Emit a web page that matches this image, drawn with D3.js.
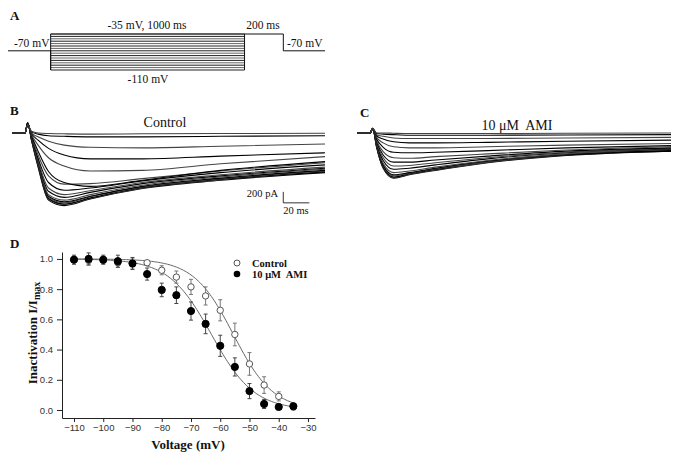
<!DOCTYPE html>
<html>
<head>
<meta charset="utf-8">
<script src="https://cdn.jsdelivr.net/npm/d3@7"></script>
<style>
  body { margin: 0; background: #fff; }
  text { white-space: pre; }
</style>
</head>
<body>
<script>
// --- panel A: protocol ---
const prepulseVoltages = [-110, -105, -100, -95, -90, -85, -80, -75, -70, -65, -60, -55, -50, -45, -40, -35];
const holdingVoltage = -70;
const protocolDurations = [220, 1000, 200, 215]; // hold, prepulse, test, hold (ms)

// --- panels B, C: current traces (pA), one row per prepulse voltage ---
const traceTimes = [0, 10, 12, 15, 20, 28, 40, 60, 100, 160, 240];
const controlTraces = [
  [0, 10, 190, -140, -620, -1220, -1320, -1200, -1010, -860, -720],
  [-10, 0, 180, -130, -600, -1200, -1300, -1190, -1000, -850, -700],
  [0, 10, 190, -120, -590, -1190, -1290, -1180, -990, -840, -710],
  [10, 0, 180, -120, -580, -1170, -1270, -1160, -980, -830, -690],
  [0, -10, 170, -110, -570, -1150, -1250, -1150, -970, -820, -680],
  [0, 10, 180, -100, -550, -1120, -1220, -1120, -950, -800, -660],
  [-10, 0, 170, -100, -520, -1060, -1170, -1080, -920, -780, -640],
  [0, 0, 170, -90, -500, -1000, -1120, -1050, -900, -760, -620],
  [0, 10, 170, -80, -460, -900, -1040, -1000, -870, -720, -580],
  [0, 0, 160, -70, -400, -780, -930, -920, -830, -690, -540],
  [0, 0, 160, -50, -330, -700, -900, -970, -860, -680, -520],
  [0, 0, 150, -30, -220, -450, -600, -690, -680, -560, -430],
  [0, 0, 150, -10, -130, -280, -400, -470, -470, -420, -360],
  [0, 0, 150, 0, -70, -150, -220, -260, -270, -240, -200],
  [0, 0, 150, 20, -20, -50, -60, -70, -70, -60, -50],
  [0, 0, 150, 30, 0, -10, -15, -20, -15, -10, -5]
];
const amiTraces = [
  [0, 0, 90, -260, -640, -820, -760, -680, -540, -410, -330],
  [0, 10, 90, -250, -630, -810, -750, -670, -530, -400, -320],
  [10, 0, 80, -250, -620, -800, -740, -660, -520, -400, -330],
  [0, 0, 80, -240, -600, -780, -730, -650, -520, -390, -310],
  [0, -10, 80, -230, -580, -760, -720, -640, -510, -390, -320],
  [0, 0, 80, -220, -550, -720, -690, -620, -500, -380, -300],
  [0, 0, 80, -200, -500, -660, -640, -580, -470, -360, -290],
  [0, 0, 80, -180, -450, -600, -590, -540, -450, -350, -280],
  [0, 0, 80, -160, -400, -530, -530, -490, -420, -330, -270],
  [0, 0, 80, -140, -340, -450, -460, -430, -380, -310, -250],
  [0, 0, 80, -110, -260, -350, -360, -350, -320, -270, -230],
  [0, 0, 80, -80, -180, -250, -270, -270, -250, -220, -190],
  [0, 0, 80, -50, -110, -160, -180, -180, -170, -150, -130],
  [0, 0, 80, -30, -60, -90, -100, -100, -100, -90, -80],
  [0, 0, 80, -10, -20, -30, -40, -40, -40, -35, -30],
  [0, 0, 80, 0, 0, -5, -10, -10, -10, -5, 0]
];

// --- panel D: steady-state inactivation ---
const controlMean = [0.995, 0.99, 0.99, 0.975, 0.97, 0.975, 0.925, 0.88, 0.815, 0.755, 0.66, 0.50, 0.305, 0.165, 0.09, 0.02];
const controlErr  = [0.02, 0.03, 0.02, 0.03, 0.03, 0.01, 0.03, 0.04, 0.05, 0.06, 0.07, 0.075, 0.075, 0.055, 0.03, 0.02];
const amiMean = [0.995, 1.0, 0.995, 0.985, 0.97, 0.90, 0.795, 0.76, 0.655, 0.57, 0.425, 0.285, 0.125, 0.04, 0.02, 0.025];
const amiErr  = [0.03, 0.04, 0.03, 0.04, 0.04, 0.04, 0.045, 0.055, 0.06, 0.065, 0.07, 0.06, 0.05, 0.03, 0.01, 0.01];
const controlFit = {vHalf: -55.5, k: 6.8};
const amiFit = {vHalf: -63, k: 7.3};
const xTickValues = [-110, -100, -90, -80, -70, -60, -50, -40, -30];
const yTickValues = [0, 0.2, 0.4, 0.6, 0.8, 1.0];

const serif = '"Liberation Serif", "Times New Roman", serif';
const sans = '"Liberation Sans", Arial, sans-serif';

const svg = d3.select('body').append('svg').attr('width', 685).attr('height', 456);

function label(x, y, txt, size, opts = {}) {
  return svg.append('text').attr('x', x).attr('y', y).text(txt)
    .attr('font-family', opts.family || serif).attr('font-size', size)
    .attr('font-weight', opts.weight || 'normal')
    .attr('text-anchor', opts.anchor || 'start').attr('fill', opts.fill || '#111');
}

// panel letters
label(10, 20, 'A', 13, {weight: 'bold'});
label(10, 115, 'B', 13, {weight: 'bold'});
label(360, 117, 'C', 13, {weight: 'bold'});
label(10, 248, 'D', 13, {weight: 'bold'});

// ---------- A ----------
const tEdges = d3.cumsum(protocolDurations);
const xA = d3.scaleLinear().domain([0, tEdges[3]]).range([8, 325]);
const yA = d3.scaleLinear().domain([-110, -35]).range([70, 34]);
const gA = svg.append('g').attr('fill', 'none').attr('stroke', '#111').attr('stroke-width', 1);
gA.selectAll('line.stripe').data(prepulseVoltages).enter().append('line')
  .attr('class', 'stripe')
  .attr('x1', xA(tEdges[0])).attr('x2', xA(tEdges[1]))
  .attr('y1', d => yA(d)).attr('y2', d => yA(d))
  .attr('stroke', (d, i) => i % 2 ? '#666' : '#222');
const outline = d3.line()([
  [xA(0), yA(holdingVoltage)], [xA(tEdges[0]), yA(holdingVoltage)],
  [xA(tEdges[0]), yA(-110)], [xA(tEdges[0]), yA(-35)],
  [xA(tEdges[2]), yA(-35)], [xA(tEdges[2]), yA(holdingVoltage)],
  [xA(tEdges[3]), yA(holdingVoltage)]
]);
gA.append('path').attr('d', outline);
gA.append('line').attr('x1', xA(tEdges[1])).attr('x2', xA(tEdges[1]))
  .attr('y1', yA(-110)).attr('y2', yA(-35));
label(14, 47, '-70 mV', 11.5);
label(287, 47, '-70 mV', 11.5);
label(147, 29, '-35 mV, 1000 ms', 11.5, {anchor: 'middle'});
label(263, 29, '200 ms', 11.5, {anchor: 'middle'});
label(148, 83, '-110 mV', 11.5, {anchor: 'middle'});

// ---------- B, C ----------
const yTrace = d3.scaleLinear().domain([-1400, 200]).range([210, 122]);
function drawTraces(traces, x) {
  const line = d3.line().x((d, i) => x(traceTimes[i])).y(d => yTrace(d)).curve(d3.curveMonotoneX);
  svg.append('g').selectAll('path').data(traces).enter().append('path')
    .attr('d', line).attr('fill', 'none')
    .attr('stroke', (d, i) => i % 2 ? '#444' : '#000').attr('stroke-width', 1.1);
}
const xB = d3.scaleLinear().domain([0, 240]).range([12, 325]);
const xC = d3.scaleLinear().domain([0, 240]).range([357, 671]);
drawTraces(controlTraces, xB);
drawTraces(amiTraces, xC);
label(165, 127, 'Control', 14, {anchor: 'middle'});
label(517, 130, '10 \u03bcM  AMI', 14, {anchor: 'middle'});

// scale bar (200 pA, 20 ms)
const bar = {t: 208, i: -1070};
svg.append('path').attr('fill', 'none').attr('stroke', '#333').attr('stroke-width', 1)
  .attr('d', d3.line()([[xB(bar.t), yTrace(bar.i)], [xB(bar.t), yTrace(bar.i - 200)], [xB(bar.t + 20), yTrace(bar.i - 200)]]));
label(278, 197, '200 pA', 10.5, {anchor: 'end'});
label(296, 214, '20 ms', 10.5, {anchor: 'middle'});

// ---------- D ----------
const x = d3.scaleLinear().domain([-114.1, -27.6]).range([62, 315]);
const y = d3.scaleLinear().domain([-0.053, 1.046]).range([418, 252]);
const gx = svg.append('g').attr('transform', 'translate(0,418)');
gx.call(d3.axisBottom(x).tickValues(d3.range(-105, -30, 10)).tickSize(3).tickFormat(''));
gx.call(d3.axisBottom(x).tickValues(xTickValues).tickSize(4).tickSizeOuter(0).tickFormat(d3.format('d')));
const gy = svg.append('g').attr('transform', 'translate(62,0)');
gy.call(d3.axisLeft(y).tickValues(d3.range(0.1, 1, 0.2)).tickSize(3).tickFormat(''));
gy.call(d3.axisLeft(y).tickValues(yTickValues).tickSize(5).tickSizeOuter(0).tickFormat(d3.format('.1f')));
[gx, gy].forEach(g => {
  g.selectAll('.domain').attr('stroke', '#222');
  g.selectAll('.tick line').attr('stroke', '#222');
  g.selectAll('text').attr('font-family', sans).attr('font-size', 9.5).attr('fill', '#333');
});
gx.selectAll('text').attr('y', 6);
gy.selectAll('text').attr('dx', '-0.1em');

// fits
const boltz = p => v => 1 / (1 + Math.exp((v - p.vHalf) / p.k));
const vGrid = d3.range(-110, -34.9, 0.5);
[controlFit, amiFit].forEach(p => {
  svg.append('path').attr('fill', 'none').attr('stroke', '#666').attr('stroke-width', 1)
    .attr('d', d3.line().x(v => x(v)).y(v => y(boltz(p)(v)))(vGrid));
});

function drawSeries(mean, err, filled) {
  const g = svg.append('g');
  const pts = prepulseVoltages.map((v, i) => ({v, m: mean[i], e: err[i]}));
  const eb = g.selectAll('g').data(pts).enter().append('g')
    .attr('stroke', filled ? '#444' : '#777').attr('stroke-width', 1);
  eb.append('line').attr('x1', d => x(d.v)).attr('x2', d => x(d.v))
    .attr('y1', d => y(d.m - d.e)).attr('y2', d => y(d.m + d.e));
  [-1, 1].forEach(s => eb.append('line')
    .attr('x1', d => x(d.v) - 2).attr('x2', d => x(d.v) + 2)
    .attr('y1', d => y(d.m + s * d.e)).attr('y2', d => y(d.m + s * d.e)));
  g.selectAll('circle').data(pts).enter().append('circle')
    .attr('cx', d => x(d.v)).attr('cy', d => y(d.m)).attr('r', filled ? 3.6 : 3.2)
    .attr('fill', filled ? '#000' : '#fff').attr('stroke', filled ? '#000' : '#555').attr('stroke-width', 1);
}
drawSeries(controlMean, controlErr, false);
drawSeries(amiMean, amiErr, true);

// legend
svg.append('circle').attr('cx', 237).attr('cy', 263).attr('r', 3).attr('fill', '#fff').attr('stroke', '#555');
svg.append('circle').attr('cx', 237).attr('cy', 274).attr('r', 3.3).attr('fill', '#000');
label(252, 267, 'Control', 10.5, {weight: 'bold'});
label(252, 278, '10 \u03bcM  AMI', 10.5, {weight: 'bold'});

// axis titles
label(188, 449, 'Voltage (mV)', 13, {weight: 'bold', anchor: 'middle'});
const yt = svg.append('text').attr('transform', 'translate(37,333) rotate(-90)')
  .attr('text-anchor', 'middle').attr('font-family', serif).attr('font-size', 13)
  .attr('font-weight', 'bold').attr('fill', '#111');
yt.append('tspan').text('Inactivation I/I');
yt.append('tspan').attr('font-size', 10).attr('dy', 3).text('max');
</script>
</body>
</html>
